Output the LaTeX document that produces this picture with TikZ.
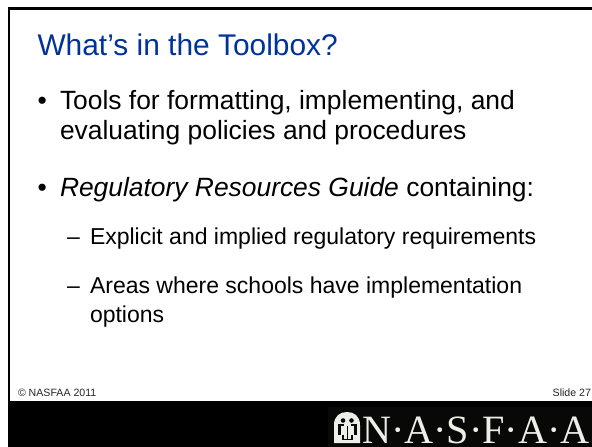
\documentclass[tikz,border=0pt]{standalone}
\usepackage{fontspec}
\setmainfont{Liberation Sans}
\newfontfamily\logofont{Liberation Serif}
\definecolor{titleblue}{RGB}{0,51,153}
\definecolor{logowhite}{RGB}{238,238,232}
\definecolor{logoback}{RGB}{8,8,6}
\tikzset{
  x=1bp,y=-1bp,
  txt/.style={anchor=base west,inner sep=0pt,outer sep=0pt},
  titletxt/.style={txt,text=titleblue,font=\fontsize{29.9bp}{34bp}\selectfont},
  bodytxt/.style={txt,font=\fontsize{26.4bp}{30bp}\selectfont},
  subtxt/.style={txt,font=\fontsize{23bp}{26bp}\selectfont},
  foot/.style={txt,font=\fontsize{10.6bp}{12bp}\selectfont,text=black!85},
  logotxt/.style={txt,text=logowhite,font=\logofont\fontsize{40.2bp}{44bp}\selectfont}
}
\begin{document}
\begin{tikzpicture}
\useasboundingbox (0,0) rectangle (592,447);
\fill[white] (0,0) rectangle (592,447);
\draw[black,line width=2.6bp] (9,8.5) -- (592,8.5);
\draw[black,line width=2.6bp] (9,7.2) -- (9,401);
\fill[black] (7.5,400.7) rectangle (592,447);
\fill[logoback] (328,407) rectangle (592,447);
\node[titletxt] (title) at (37.5,55.3) {What’s in the Toolbox?};
\node[bodytxt] (b1) at (37.5,109.5) {•};
\node[bodytxt] (t1) at (60,109.5) {Tools for formatting, implementing, and};
\node[bodytxt] (t2) at (60,140) {evaluating policies and procedures};
\node[bodytxt] (b2) at (37.5,197) {•};
\node[bodytxt] (t3) at (60,197) {\textit{Regulatory Resources Guide} containing:};
\node[subtxt] (s1) at (67,245) {–};
\node[subtxt] (t4) at (90,245) {Explicit and implied regulatory requirements};
\node[subtxt] (s2) at (67,293.5) {–};
\node[subtxt] (t5) at (90,293.5) {Areas where schools have implementation};
\node[subtxt] (t6) at (90,322) {options};
\node[foot] (copy) at (18,396) {© NASFAA 2011};
\node[foot,anchor=base east] (slide) at (591,396) {Slide 27};
% logo emblem
\fill[logowhite] (334,443) -- (334,425) .. controls (334,416) and (340,412) .. (347,412) .. controls (354,412) and (360,416) .. (360,425) -- (360,443) -- cycle;
\fill[logoback] (343,420.5) circle (2.3);
\fill[logoback] (351.5,420.5) circle (2.3);
\fill[logoback] (338,424) rectangle (341,435);
\fill[logoback] (353.5,424) rectangle (356.5,435);
\fill[logoback] (341,424) rectangle (343.5,426);
\fill[logoback] (351,424) rectangle (353.5,426);
\fill[logoback] (346.6,426) rectangle (347.9,439);
\fill[logoback] (341.5,435) rectangle (343.5,439);
\fill[logoback] (351,435) rectangle (353,439);
\fill[logoback] (341.5,438.5) rectangle (353,440);
\node[logotxt] (logo) at (362,443) {N·A·S·F·A·A};
\end{tikzpicture}
\end{document}
